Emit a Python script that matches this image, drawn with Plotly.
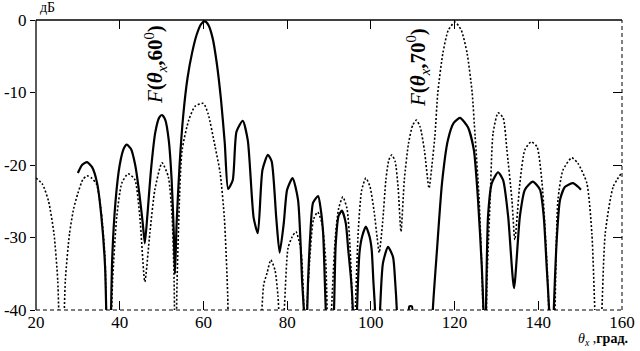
import plotly.graph_objects as go

# F(theta_x, 60 deg) - solid
theta_60 = [30.0, 31.0, 32.2, 33.4, 34.6, 35.6, 36.5, 37.4, 38.2, 39.0, 40.0, 41.0, 41.7, 42.7, 43.7, 44.7,
            45.5, 46.0, 46.6, 47.5, 48.5, 49.4, 50.1, 50.9, 51.7, 52.4, 52.9, 53.2, 53.6, 54.3, 55.2, 56.2,
            57.3, 58.4, 59.4, 60.3, 61.2, 62.2, 63.2, 64.2, 65.1, 65.9, 67.0, 67.9, 69.4, 70.6, 72.0, 73.0,
            74.1, 75.4, 76.3, 77.4, 78.2, 79.2, 80.0, 81.3, 82.6, 83.6, 84.0, 84.5, 85.0, 85.5, 86.2, 87.4,
            88.0, 88.6, 89.0, 90.2, 91.2, 91.6, 92.3, 93.1, 94.0, 94.6, 95.3, 95.7, 96.2, 96.7, 97.3, 97.9,
            98.8, 99.7, 100.2, 100.6, 101.0, 101.6, 102.2, 102.9, 104.1, 105.3, 105.8, 106.2, 106.8, 108.8,
            109.2, 109.8, 110.2, 112.0, 114.3, 114.8, 115.8, 117.0, 118.4, 119.8, 121.3, 123.2, 124.6, 125.6,
            126.5, 126.9, 127.2, 127.5, 128.0, 128.9, 130.4, 131.6, 132.8, 134.2, 135.6, 136.8, 138.7, 140.4,
            141.3, 142.0, 142.6, 143.2, 143.7, 144.5, 145.2, 146.4, 148.3, 149.5, 150.2]
db_60 = [-21.1, -20.0, -19.6, -20.3, -22.5, -27.0, -34.0, -55.0, -33.0, -25.0, -20.0, -17.7, -17.2, -17.8, -20.0, -24.0,
         -28.0, -30.8, -27.0, -20.5, -15.5, -13.5, -13.1, -13.8, -16.5, -22.0, -29.0, -35.0, -28.0, -20.0, -13.0, -8.0,
         -4.5, -2.0, -0.6, -0.2, -0.7, -2.5, -6.0, -11.0, -17.0, -23.3, -22.1, -15.4, -13.9, -16.6, -27.3, -29.4,
         -20.7, -18.6, -19.5, -27.3, -32.1, -28.0, -23.4, -21.8, -24.8, -36.3, -40.0, -45.0, -36.0, -29.9, -25.2, -24.3,
         -26.0, -29.4, -36.0, -55.0, -40.0, -31.0, -27.0, -26.3, -28.0, -31.7, -36.0, -40.0, -55.0, -40.0, -32.0, -29.9,
         -28.5, -29.9, -31.7, -36.0, -40.0, -55.0, -40.0, -33.5, -31.3, -32.7, -36.0, -40.0, -55.0, -45.0,
         -39.5, -39.5, -45.0, -60.0, -50.0, -40.0, -31.7, -22.5, -16.6, -14.2, -13.5, -14.8, -17.9, -24.8,
         -34.0, -40.0, -50.0, -40.0, -27.0, -22.5, -21.0, -22.1, -27.1, -37.0, -27.1, -23.4, -22.3, -23.4,
         -27.1, -34.0, -40.0, -50.0, -40.0, -29.4, -24.8, -23.0, -22.5, -23.0, -23.4]

# F(theta_x, 70 deg) - dotted
theta_70 = [20.0, 21.5, 23.0, 24.3, 25.2, 26.1, 27.0, 28.0, 29.0, 30.0, 31.2, 32.2, 33.3, 34.5, 35.6, 36.5,
            37.2, 38.3, 39.3, 40.5, 42.0, 43.6, 44.8, 46.0, 47.2, 48.4, 50.1, 51.6, 52.5, 53.0, 53.3, 53.7,
            54.9, 56.5, 58.0, 60.0, 61.1, 62.8, 64.0, 65.0, 65.8, 66.5, 70.0, 73.9, 74.4, 75.2, 76.1, 77.1,
            77.8, 78.5, 79.3, 80.2, 81.2, 82.1, 83.3, 84.0, 84.4, 84.7, 85.4, 86.3, 87.3, 88.3, 89.2, 90.0,
            90.6, 91.5, 92.3, 93.3, 94.3, 95.0, 95.6, 95.9, 96.3, 97.0, 97.8, 98.8, 99.8, 100.8, 101.5, 102.0,
            102.8, 103.6, 104.3, 105.0, 105.8, 106.5, 107.2, 108.0, 109.0, 110.0, 110.9, 111.8, 112.8, 113.9,
            114.6, 115.3, 116.0, 117.2, 118.5, 120.1, 121.6, 123.0, 124.2, 124.9, 125.8, 126.5, 127.0, 127.4,
            127.7, 128.5, 129.2, 130.4, 131.6, 132.5, 133.7, 134.4, 135.6, 136.8, 138.3, 139.7, 140.9, 142.1,
            142.8, 143.5, 144.0, 144.7, 145.9, 148.0, 149.5, 151.6, 152.8, 153.5, 154.3, 155.2, 156.0, 157.9,
            160.0]
db_70 = [-21.8, -22.6, -25.0, -29.5, -36.0, -55.0, -36.0, -29.5, -26.0, -23.9, -22.0, -21.5, -21.8, -22.7, -26.5, -33.0,
         -55.0, -36.0, -27.1, -22.5, -21.2, -22.0, -27.1, -36.1, -29.4, -23.4, -19.7, -21.6, -27.0, -36.0, -55.0, -36.0,
         -18.0, -13.8, -11.9, -11.5, -12.9, -17.5, -21.1, -27.3, -38.0, -60.0, -70.0, -40.5, -36.5, -34.9, -33.1, -34.5,
         -38.0, -45.0, -40.0, -31.5, -29.9, -29.2, -31.7, -40.0, -50.0, -40.0, -33.0, -27.5, -26.5, -28.0, -33.0, -50.0,
         -40.0, -30.0, -26.0, -24.4, -26.0, -31.0, -40.0, -50.0, -40.0, -29.0, -23.5, -21.8, -23.0, -26.5, -30.0, -32.1,
         -28.0, -22.0, -19.3, -18.6, -19.5, -23.0, -29.2, -22.0, -17.0, -14.5, -13.8, -14.8, -18.0, -23.2,
         -20.0, -16.0, -10.0, -4.6, -1.4, -0.3, -1.4, -4.6, -10.0, -16.0, -24.0, -34.0, -45.0, -55.0,
         -36.8, -24.8, -15.6, -12.8, -13.5, -17.9, -24.8, -30.3, -22.5, -17.9, -16.8, -17.5, -22.5, -34.0,
         -45.0, -55.0, -40.0, -24.8, -20.7, -19.0, -19.8, -22.5, -29.4, -40.0, -55.0, -40.0, -29.4, -23.0,
         -21.0]

x_ticks = [20, 40, 60, 80, 100, 120, 140, 160]
y_ticks = [0, -10, -20, -30, -40]
y_tick_text = ["0", "-10", "-20", "-30", "-40"]

SERIF = "Liberation Serif, Times New Roman, serif"

fig = go.Figure()
fig.add_trace(go.Scatter(x=theta_70, y=db_70, mode="lines",
                         line=dict(color="black", width=1.6, dash="2px,2px", shape="spline", smoothing=0.6),
                         showlegend=False))
fig.add_trace(go.Scatter(x=theta_60, y=db_60, mode="lines",
                         line=dict(color="black", width=2.2, shape="spline", smoothing=0.6),
                         showlegend=False))
# invisible trace to activate secondary axes
fig.add_trace(go.Scatter(x=[20], y=[0], xaxis="x2", yaxis="y2", mode="markers",
                         marker=dict(opacity=0), showlegend=False, hoverinfo="skip"))

fig.update_layout(
    width=640, height=351,
    margin=dict(l=36, r=18, t=20, b=41),
    paper_bgcolor="white", plot_bgcolor="white",
    font=dict(family=SERIF, color="black"),
    xaxis=dict(range=[20, 160], tickvals=x_ticks, ticktext=[str(v) for v in x_ticks],
               ticks="inside", ticklen=9, tickwidth=1, tickcolor="black", automargin=False,
               showgrid=False, zeroline=False, showline=False,
               tickfont=dict(family=SERIF, size=17, color="black"), ticklabelstandoff=0),
    yaxis=dict(range=[-40, 0], tickvals=y_ticks, ticktext=y_tick_text,
               ticks="outside", ticklen=5, tickwidth=1, tickcolor="black", automargin=False,
               showgrid=False, zeroline=False, showline=False,
               tickfont=dict(family=SERIF, size=17, color="black")),
    xaxis2=dict(range=[20, 160], overlaying="x", side="top", tickvals=x_ticks, automargin=False,
                ticks="inside", ticklen=9, tickcolor="black", showticklabels=False,
                showgrid=False, zeroline=False, showline=False),
    yaxis2=dict(range=[-40, 0], overlaying="y", side="right", tickvals=y_ticks, automargin=False,
                ticks="inside", ticklen=9, tickcolor="black", showticklabels=False,
                showgrid=False, zeroline=False, showline=False),
)

# frame: left & top solid, bottom & right dashed
fig.add_shape(type="line", xref="paper", yref="paper", x0=0, x1=0, y0=0, y1=1,
              line=dict(color="black", width=1.3))
fig.add_shape(type="line", xref="paper", yref="paper", x0=0, x1=1, y0=1, y1=1,
              line=dict(color="black", width=1.3))
fig.add_shape(type="line", xref="paper", yref="paper", x0=0, x1=1, y0=0, y1=0,
              line=dict(color="black", width=1, dash="4px,3px"))
fig.add_shape(type="line", xref="paper", yref="paper", x0=1, x1=1, y0=0, y1=1,
              line=dict(color="black", width=1, dash="4px,3px"))

fig.add_annotation(x=48.4, y=-6.1, xref="x", yref="y", showarrow=False, textangle=-90,
                   text="<i>F</i><b>(<i>θ</i></b><sub><i>x</i></sub><b>,60</b><sup>0</sup><b>)</b>",
                   font=dict(family=SERIF, size=21, color="black"))
fig.add_annotation(x=111.3, y=-6.6, xref="x", yref="y", showarrow=False, textangle=-90,
                   text="<i>F</i><b>(<i>θ</i></b><sub><i>x</i></sub><b>,70</b><sup>0</sup><b>)</b>",
                   font=dict(family=SERIF, size=21, color="black"))
fig.add_annotation(x=0.004, y=1.043, xref="paper", yref="paper", xanchor="left", yanchor="middle",
                   showarrow=False, text="дБ", font=dict(family=SERIF, size=14, color="black"))
fig.add_annotation(x=0.968, y=-0.1, xref="paper", yref="paper", xanchor="center", yanchor="middle",
                   showarrow=False, text="<i>θ</i><sub><i>x</i></sub> ,<b>град.</b>",
                   font=dict(family=SERIF, size=14, color="black"))

fig.write_html("out.html")
